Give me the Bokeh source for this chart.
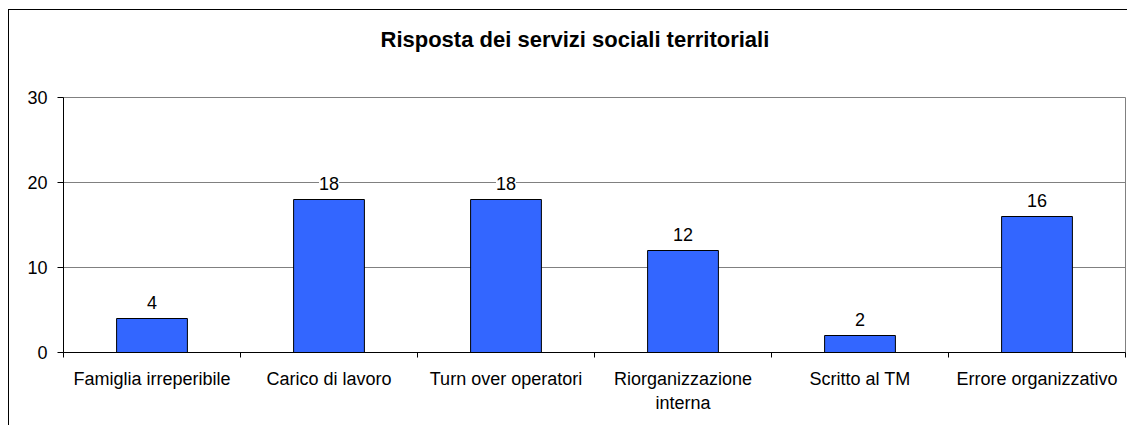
from bokeh.plotting import figure
from bokeh.models import ColumnDataSource, FixedTicker, LabelSet, Title
from bokeh.core.properties import value
from bokeh.embed import file_html
from bokeh.resources import INLINE

categories = ["Famiglia irreperibile", "Carico di lavoro", "Turn over operatori",
              "Riorganizzazione interna", "Scritto al TM", "Errore organizzativo"]
tick_labels = ["Famiglia irreperibile", "Carico di lavoro", "Turn over operatori",
               "Riorganizzazione\ninterna", "Scritto al TM", "Errore organizzativo"]
values = [4, 18, 18, 12, 2, 16]
y_ticks = [0, 10, 20, 30]
title_text = "Risposta dei servizi sociali territoriali"

FONT = "Liberation Sans"
centers = [i + 0.5 for i in range(len(categories))]
src = ColumnDataSource(dict(x=centers, top=values, label=[str(v) for v in values]))

p = figure(width=1119, height=416, x_range=(0, len(categories)), y_range=(0, 30),
           output_backend="svg", toolbar_location=None,
           min_border_left=54, min_border_right=3, min_border_top=87, min_border_bottom=74)
p.styles = {"border-left": "1px solid black", "border-top": "1px solid black",
            "margin-top": "9px", "margin-left": "8px"}

spacer = Title(text=" ", text_font_size="35px", standoff=0)
p.add_layout(spacer, "above")
t = Title(text=title_text, align="left", offset=317, text_font=FONT,
          text_font_size="22px", text_font_style="bold", text_color="black")
p.add_layout(t, "above")

p.vbar(x="x", top="top", width=0.4, bottom=0, source=src,
       fill_color="#3366FF", line_color="black", line_width=1)

labels = LabelSet(x="x", y="top", text="label", source=src, text_align="center",
                  text_baseline="alphabetic", y_offset=10, text_font=value(FONT),
                  text_font_size=value("18px"), text_color="black",
                  background_fill_color="white")
p.add_layout(labels)

p.outline_line_color = "#808080"
p.outline_line_width = 1
p.xgrid.grid_line_color = None
p.ygrid.grid_line_color = "#808080"
p.ygrid.ticker = FixedTicker(ticks=y_ticks)

p.yaxis.ticker = FixedTicker(ticks=y_ticks)
p.yaxis.axis_line_color = "black"
p.yaxis.major_tick_line_color = "black"
p.yaxis.major_tick_out = 6
p.yaxis.major_tick_in = 0
p.yaxis.minor_tick_line_color = None
p.yaxis.major_label_standoff = 10
p.yaxis.major_label_text_font = FONT
p.yaxis.major_label_text_font_size = "18px"
p.yaxis.major_label_text_color = "black"

p.xaxis.ticker = FixedTicker(ticks=centers, minor_ticks=list(range(len(categories) + 1)))
p.xaxis.major_label_overrides = {c: l for c, l in zip(centers, tick_labels)}
p.xaxis.axis_line_color = "black"
p.xaxis.major_tick_line_color = None
p.xaxis.major_tick_out = 0
p.xaxis.major_tick_in = 0
p.xaxis.minor_tick_line_color = "black"
p.xaxis.minor_tick_out = 5
p.xaxis.minor_tick_in = 0
p.xaxis.major_label_standoff = 11
p.xaxis.major_label_text_font = FONT
p.xaxis.major_label_text_font_size = "18px"
p.xaxis.major_label_text_color = "black"

p.background_fill_color = "white"
p.border_fill_color = "white"

open("out.html", "w").write(file_html(p, INLINE))
